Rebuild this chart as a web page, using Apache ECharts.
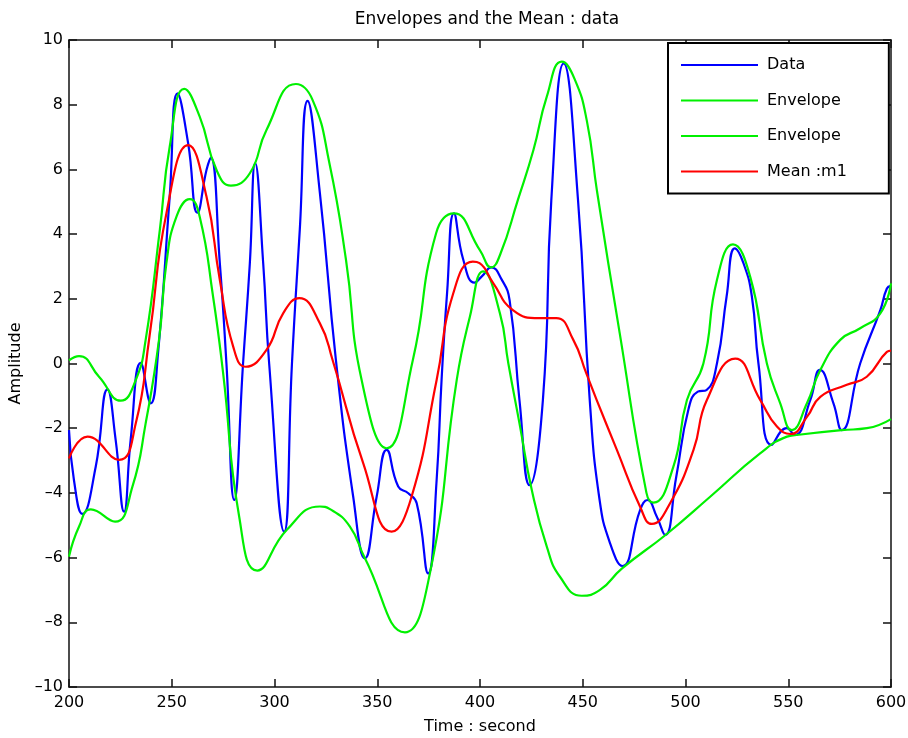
<!DOCTYPE html>
<html>
<head>
<meta charset="utf-8">
<title>Envelopes and the Mean</title>
<script src="https://cdn.jsdelivr.net/npm/echarts@6/dist/echarts.min.js"></script>
<style>
  html, body { margin: 0; padding: 0; background: #fff; }
  #chart { width: 908px; height: 738px; }
</style>
</head>
<body>
<div id="chart"></div>
<script>
// Signal samples [time, amplitude]
const dataSignal = [
  [200, -2.06], [202.4, -3.6], [206.5, -4.65], [213, -3.19], [218.7, -0.8],
  [222.7, -2.36], [226.8, -4.58], [230, -2.36], [234.9, 0.02], [239.8, -1.23],
  [243.3, 0.3], [249, 5.16], [252.8, 8.35], [258, 6.8], [262.5, 4.66],
  [266.9, 5.98], [269, 6.36], [273.4, 3.1], [276.6, 0.01], [280.4, -4.22],
  [284.7, 0], [288, 3.1], [290.6, 6.19], [294.5, 3.1], [297.4, 0],
  [304.7, -5.2], [308.5, 0], [312.3, 4.13], [316.1, 8.12], [322.1, 5.26],
  [329.9, 0.1], [338.3, -4.12], [344, -6.02], [349.7, -4.12], [354.6, -2.67],
  [360.2, -3.8], [365.1, -4.01], [369.2, -4.32], [374.8, -6.49], [378.9, -3.6],
  [381.3, -0.51], [384, 2.2], [387.3, 4.64], [391.9, 3.2], [397.3, 2.5],
  [401, 2.7], [405.5, 2.97], [410.5, 2.6], [414.4, 1.96], [419.2, -1.13],
  [424.1, -3.76], [430.6, -1.13], [434.7, 5.05], [440.7, 9.28], [447.7, 5.05],
  [453.4, -1.13], [458.2, -4.22], [463.3, -5.56], [469.3, -6.26], [477.9, -4.53],
  [481.5, -4.22], [486, -4.73], [490.1, -5.3], [495.5, -3.5], [501.5, -1.4],
  [506, -0.87], [510.2, -0.82], [515.3, 0], [520, 2.07], [524, 3.56],
  [528.2, 3.1], [532.3, 2.07], [535.5, 0], [541.9, -2.52], [549.2, -2.0],
  [553.2, -2.21], [560.7, -1.13], [565.4, -0.2], [572, -1.23], [576, -2.06],
  [585, 0], [594.8, 1.65], [598, 2.32], [600, 2.4]
];

// Upper envelope through the maxima
const upperEnvelope = [
  [200, 0.1], [204.9, 0.23], [214.6, -0.41], [225.2, -1.15], [232.5, -0.51],
  [237.3, 0.73], [244.2, 4.13], [249, 6.7], [256.1, 8.49], [263.6, 7.63],
  [271.8, 5.98], [278.8, 5.5], [288, 5.88], [296.1, 7.22], [310.4, 8.64],
  [318.5, 8.15], [326.7, 6.2], [334.8, 3.2], [342.4, -0.51], [354.6, -2.62],
  [367.3, 0.1], [378.6, 4.02], [387.3, 4.64], [400, 3.5], [405.4, 2.97],
  [410, 3.4], [418.4, 5.05], [426, 6.6], [432.5, 8.25], [439.8, 9.33],
  [446, 8.8], [452, 7.5], [457, 5.3], [468, 0.93], [481, -4.0], [484.4, -4.3],
  [494.1, -3.19], [500.7, -1.13], [508.7, 0], [515.3, 2.58], [523.1, 3.68],
  [531.5, 2.68], [539.6, 0], [546.1, -1.23], [551.8, -2.06], [559.1, -1.23],
  [565.6, -0.2], [575.3, 0.73], [585, 1.09], [594.8, 1.55], [600, 2.48]
];

// Lower envelope through the minima
const lowerEnvelope = [
  [200, -5.97], [204.9, -5.04], [210.6, -4.51], [222.4, -4.89], [230.9, -3.8],
  [237.3, -1.85], [243.8, 0.73], [247.4, 3.1], [252.3, 4.54], [258.8, 5.08],
  [263.6, 4.54], [270.1, 2.07], [275, -0.3], [282.8, -4.73], [291.6, -6.4],
  [305.9, -5.15], [322.1, -4.42], [327, -4.5], [336.7, -5.04], [344, -6.02],
  [363.5, -8.31], [375.6, -6.49], [388.7, -0.5], [395.1, 1.45], [401.5, 2.85],
  [409.7, 1.55], [413.8, 0], [419.5, -1.95], [425.2, -3.91], [432.5, -5.66],
  [439, -6.6], [449.5, -7.18], [458.4, -7.0], [469, -6.34], [490.9, -5.27],
  [512, -4.12], [536.3, -2.78], [549.4, -2.26], [554, -2.21], [576, -2.06],
  [588.3, -2.0], [600, -1.72]
];

// Mean of the two envelopes (m1)
const meanCurve = [
  [200, -2.93], [209, -2.26], [224.4, -2.98], [232.5, -1.85], [239.2, 0.85],
  [247.4, 4.64], [258, 6.75], [266.9, 5.16], [273.4, 2.58], [279.9, 0.52],
  [286, -0.1], [296.1, 0.42], [304.2, 1.55], [312, 2.02], [322.1, 1.24],
  [328.3, 0.1], [343.2, -3.09], [357, -5.2], [366.7, -4.12], [378.9, -0.51],
  [387, 2.17], [396.5, 3.15], [399.8, 3.1], [406.5, 2.48], [416, 1.65],
  [429, 1.4], [437.1, 1.4], [445.4, 0.73], [451.7, -0.3], [456.8, -1.13],
  [466.6, -2.67], [477.9, -4.43], [483.6, -4.96], [492.5, -4.32], [503.9, -2.67],
  [510.4, -1.13], [524.2, 0.15], [536.4, -1.13], [544.5, -1.95], [551.1, -2.18],
  [559.1, -1.65], [565.6, -1.03], [578.5, -0.66], [588.2, -0.41], [598, 0.36],
  [600, 0.4]
];

const legendLabels = ['Data', 'Envelope', 'Envelope', 'Mean :m1'];
const seriesKeys = ['Data', 'Envelope (upper)', 'Envelope (lower)', 'Mean :m1'];

const FONT = 'DejaVu Sans';
const AXIS_COLOR = '#111';
const BLUE = '#0000ff';
const GREEN = '#00f000';
const RED = '#ff0000';

function axisBase(extra) {
  return Object.assign({
    type: 'value',
    axisLine: { show: true, onZero: false, lineStyle: { color: AXIS_COLOR, width: 1.5 } },
    axisTick: { show: true, inside: true, length: 8, lineStyle: { color: AXIS_COLOR, width: 1.5 } },
    splitLine: { show: false }
  }, extra);
}

function lineSeries(key, values, color) {
  return {
    name: key,
    type: 'line',
    data: values,
    smooth: 0.5,
    symbol: 'none',
    lineStyle: { color: color, width: 2.2 },
    itemStyle: { color: color },
    animation: false,
    z: 2
  };
}

const chart = echarts.init(document.getElementById('chart'), null, { renderer: 'canvas' });

chart.setOption({
  backgroundColor: '#fff',
  animation: false,
  title: {
    text: 'Envelopes and the Mean : data',
    left: 482,
    top: 6,
    textAlign: 'center',
    textStyle: { fontFamily: FONT, fontSize: 17, fontWeight: 'normal', color: '#000' }
  },
  grid: { left: 69, right: 17, top: 40, bottom: 51, containLabel: false, outerBoundsMode: 'none' },
  legend: {
    orient: 'vertical',
    left: 668,
    top: 43,
    data: seriesKeys,
    formatter: name => legendLabels[seriesKeys.indexOf(name)],
    icon: 'rect',
    backgroundColor: '#fff',
    borderColor: '#000',
    borderWidth: 2,
    borderRadius: 0,
    padding: [14, 42, 14, 13],
    itemGap: 19.5,
    itemWidth: 77,
    itemHeight: 2,
    textStyle: { fontFamily: FONT, fontSize: 16, color: '#000', lineHeight: 16, padding: [0, 0, 0, 4] },
    selectedMode: false
  },
  xAxis: [
    axisBase({
      min: 200, max: 600, interval: 50, position: 'bottom',
      name: 'Time : second', nameLocation: 'middle', nameGap: 32,
      nameTextStyle: { fontFamily: FONT, fontSize: 16, color: '#000' },
      axisLabel: { show: true, margin: 8, fontFamily: FONT, fontSize: 16, color: '#000' }
    }),
    axisBase({
      min: 200, max: 600, interval: 50, position: 'top',
      axisLabel: { show: false }
    })
  ],
  yAxis: [
    axisBase({
      min: -10, max: 10, interval: 2, position: 'left',
      name: 'Amplitude', nameLocation: 'middle', nameGap: 38,
      nameTextStyle: { fontFamily: FONT, fontSize: 16, color: '#000' },
      axisLabel: {
        show: true, margin: 6, fontFamily: FONT, fontSize: 16, color: '#000',
        formatter: v => String(v).replace('-', '\u2013')
      }
    }),
    axisBase({
      min: -10, max: 10, interval: 2, position: 'right',
      axisLabel: { show: false }
    })
  ],
  series: [
    lineSeries(seriesKeys[0], dataSignal, BLUE),
    lineSeries(seriesKeys[1], upperEnvelope, GREEN),
    lineSeries(seriesKeys[2], lowerEnvelope, GREEN),
    lineSeries(seriesKeys[3], meanCurve, RED)
  ]
});
</script>
</body>
</html>
